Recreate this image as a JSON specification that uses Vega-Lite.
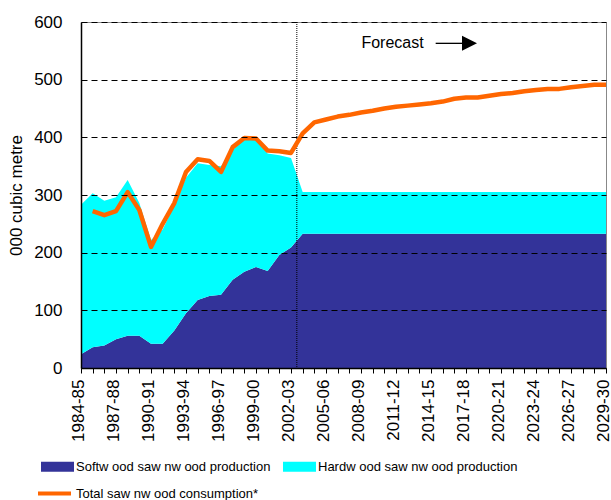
{
  "$schema": "https://vega.github.io/schema/vega-lite/v6.json",
  "width": 525,
  "height": 346,
  "autosize": {"type": "none"},
  "padding": {"left": 81, "top": 22, "right": 5, "bottom": 132},
  "background": "white",
  "config": {"font": "Liberation Sans", "view": {"stroke": "#888888", "strokeWidth": 1}, "axis": {"labelOverlap": false}},
  "data": {"values": [
    {"year": 1984, "Softwood": 24, "Hardwood": 259, "Total": null},
    {"year": 1985, "Softwood": 36, "Hardwood": 267, "Total": 272},
    {"year": 1986, "Softwood": 39, "Hardwood": 251, "Total": 265},
    {"year": 1987, "Softwood": 50, "Hardwood": 246, "Total": 272},
    {"year": 1988, "Softwood": 56, "Hardwood": 270, "Total": 305},
    {"year": 1989, "Softwood": 56, "Hardwood": 230, "Total": 274},
    {"year": 1990, "Softwood": 42, "Hardwood": 180, "Total": 210},
    {"year": 1991, "Softwood": 42, "Hardwood": 198, "Total": 250},
    {"year": 1992, "Softwood": 65, "Hardwood": 217, "Total": 286},
    {"year": 1993, "Softwood": 95, "Hardwood": 235, "Total": 340},
    {"year": 1994, "Softwood": 118, "Hardwood": 237, "Total": 362},
    {"year": 1995, "Softwood": 125, "Hardwood": 227, "Total": 359},
    {"year": 1996, "Softwood": 127, "Hardwood": 223, "Total": 340},
    {"year": 1997, "Softwood": 153, "Hardwood": 225, "Total": 383},
    {"year": 1998, "Softwood": 167, "Hardwood": 231, "Total": 399},
    {"year": 1999, "Softwood": 175, "Hardwood": 221, "Total": 398},
    {"year": 2000, "Softwood": 168, "Hardwood": 204, "Total": 377},
    {"year": 2001, "Softwood": 196, "Hardwood": 173, "Total": 376},
    {"year": 2002, "Softwood": 209, "Hardwood": 155, "Total": 373},
    {"year": 2003, "Softwood": 233, "Hardwood": 72, "Total": 407},
    {"year": 2004, "Softwood": 233, "Hardwood": 72, "Total": 426},
    {"year": 2005, "Softwood": 233, "Hardwood": 72, "Total": 431},
    {"year": 2006, "Softwood": 233, "Hardwood": 72, "Total": 436},
    {"year": 2007, "Softwood": 233, "Hardwood": 72, "Total": 439},
    {"year": 2008, "Softwood": 233, "Hardwood": 72, "Total": 443},
    {"year": 2009, "Softwood": 233, "Hardwood": 72, "Total": 446},
    {"year": 2010, "Softwood": 233, "Hardwood": 72, "Total": 450},
    {"year": 2011, "Softwood": 233, "Hardwood": 72, "Total": 453},
    {"year": 2012, "Softwood": 233, "Hardwood": 72, "Total": 455},
    {"year": 2013, "Softwood": 233, "Hardwood": 72, "Total": 457},
    {"year": 2014, "Softwood": 233, "Hardwood": 72, "Total": 459},
    {"year": 2015, "Softwood": 233, "Hardwood": 72, "Total": 462},
    {"year": 2016, "Softwood": 233, "Hardwood": 72, "Total": 467},
    {"year": 2017, "Softwood": 233, "Hardwood": 72, "Total": 469},
    {"year": 2018, "Softwood": 233, "Hardwood": 72, "Total": 469},
    {"year": 2019, "Softwood": 233, "Hardwood": 72, "Total": 472},
    {"year": 2020, "Softwood": 233, "Hardwood": 72, "Total": 475},
    {"year": 2021, "Softwood": 233, "Hardwood": 72, "Total": 477},
    {"year": 2022, "Softwood": 233, "Hardwood": 72, "Total": 480},
    {"year": 2023, "Softwood": 233, "Hardwood": 72, "Total": 482},
    {"year": 2024, "Softwood": 233, "Hardwood": 72, "Total": 484},
    {"year": 2025, "Softwood": 233, "Hardwood": 72, "Total": 484},
    {"year": 2026, "Softwood": 233, "Hardwood": 72, "Total": 487},
    {"year": 2027, "Softwood": 233, "Hardwood": 72, "Total": 489},
    {"year": 2028, "Softwood": 233, "Hardwood": 72, "Total": 491},
    {"year": 2029, "Softwood": 233, "Hardwood": 72, "Total": 491}
  ]},
  "layer": [
    {
      "transform": [{"fold": ["Softwood", "Hardwood"], "as": ["series", "value"]}],
      "mark": {"type": "area", "interpolate": "linear", "opacity": 1},
      "encoding": {
        "x": {
          "field": "year", "type": "quantitative",
          "scale": {"domain": [1984, 2029], "nice": false, "zero": false},
          "axis": {
            "values": [1984,1985,1986,1987,1988,1989,1990,1991,1992,1993,1994,1995,1996,1997,1998,1999,2000,2001,2002,2003,2004,2005,2006,2007,2008,2009,2010,2011,2012,2013,2014,2015,2016,2017,2018,2019,2020,2021,2022,2023,2024,2025,2026,2027,2028,2029],
            "tickCount": 100,
            "labelExpr": "(datum.value - 1984) % 3 == 0 ? datum.value + '-' + slice('0' + ((datum.value + 1) % 100), -2) : ''",
            "labelAngle": -90, "labelFontSize": 17, "labelColor": "black", "labelOffset": -3,
            "labelOverlap": false, "labelFlush": false, "labelBound": false, "labelSeparation": 0,
            "tickSize": 5, "tickColor": "black", "labelPadding": 6,
            "domainColor": "black", "domainWidth": 1.5, "grid": false, "title": null, "zindex": 1
          }
        },
        "y": {
          "field": "value", "type": "quantitative", "stack": "zero",
          "scale": {"domain": [0, 600], "nice": false},
          "axis": {
            "values": [0, 100, 200, 300, 400, 500, 600],
            "labelFontSize": 17, "labelColor": "black", "labelPadding": 19, "tickSize": 0,
            "grid": true, "gridColor": "black", "gridDash": [6, 4], "gridWidth": 1, "gridOpacity": 1,
            "domainColor": "black", "domainWidth": 1.5,
            "title": "000 cubic metre", "titleFontSize": 17, "titleFontWeight": "normal", "titleColor": "black", "titlePadding": 8, "zindex": 1
          }
        },
        "fill": {
          "field": "series", "type": "nominal",
          "scale": {"domain": ["Softwood", "Hardwood"], "range": ["#333399", "#00FFFF"]},
          "legend": {
            "title": null, "orient": "none", "direction": "horizontal", "legendX": -30, "legendY": 438,
            "columnPadding": 12, "padding": 0,
            "labelFontSize": 13, "labelLimit": 400, "labelColor": "black", "labelOffset": 12,
            "symbolSize": 100, "symbolType": "M-3.3,-1H3.3V1H-3.3Z", "symbolOpacity": 1, "symbolStrokeWidth": 0,
            "labelExpr": "datum.value === 'Softwood' ? 'Softw ood saw nw ood production' : 'Hardw ood saw nw ood production'"
          }
        },
        "order": {"field": "series", "sort": "descending"}
      }
    },
    {
      "data": {"values": [{}]},
      "mark": {"type": "rule", "color": "black", "strokeDash": [1, 1], "strokeWidth": 1},
      "encoding": {"x": {"datum": 2002.5, "type": "quantitative"}}
    },
    {
      "mark": {"type": "line", "strokeWidth": 4.5, "strokeJoin": "round", "strokeCap": "butt"},
      "encoding": {
        "x": {"field": "year", "type": "quantitative"},
        "y": {"field": "Total", "type": "quantitative", "title": "000 cubic metre"},
        "stroke": {
          "datum": "Total",
          "scale": {"domain": ["Total"], "range": ["#FF6600"]},
          "legend": {
            "title": null, "orient": "none", "legendX": -45, "legendY": 453, "padding": 0,
            "labelFontSize": 13, "labelLimit": 400, "labelColor": "black", "labelOffset": 3,
            "symbolType": "stroke", "symbolSize": 1089, "symbolStrokeWidth": 4, "symbolOpacity": 1,
            "labelExpr": "'Total saw nw ood consumption*'"
          }
        }
      }
    },
    {
      "data": {"values": [{}]},
      "mark": {"type": "text", "fontSize": 16, "align": "center", "baseline": "middle", "color": "black"},
      "encoding": {"x": {"datum": 2010.7, "type": "quantitative"}, "y": {"datum": 563, "type": "quantitative"}, "text": {"value": "Forecast"}}
    },
    {
      "data": {"values": [{}]},
      "mark": {"type": "rule", "color": "black", "strokeWidth": 1.3},
      "encoding": {"x": {"datum": 2014.4, "type": "quantitative"}, "x2": {"datum": 2016.8}, "y": {"datum": 563, "type": "quantitative"}}
    },
    {
      "data": {"values": [{}]},
      "mark": {"type": "point", "shape": "M-1,-1L1,0L-1,1Z", "size": 225, "filled": true, "color": "black", "opacity": 1},
      "encoding": {"x": {"datum": 2017.3, "type": "quantitative"}, "y": {"datum": 563, "type": "quantitative"}}
    }
  ]
}
